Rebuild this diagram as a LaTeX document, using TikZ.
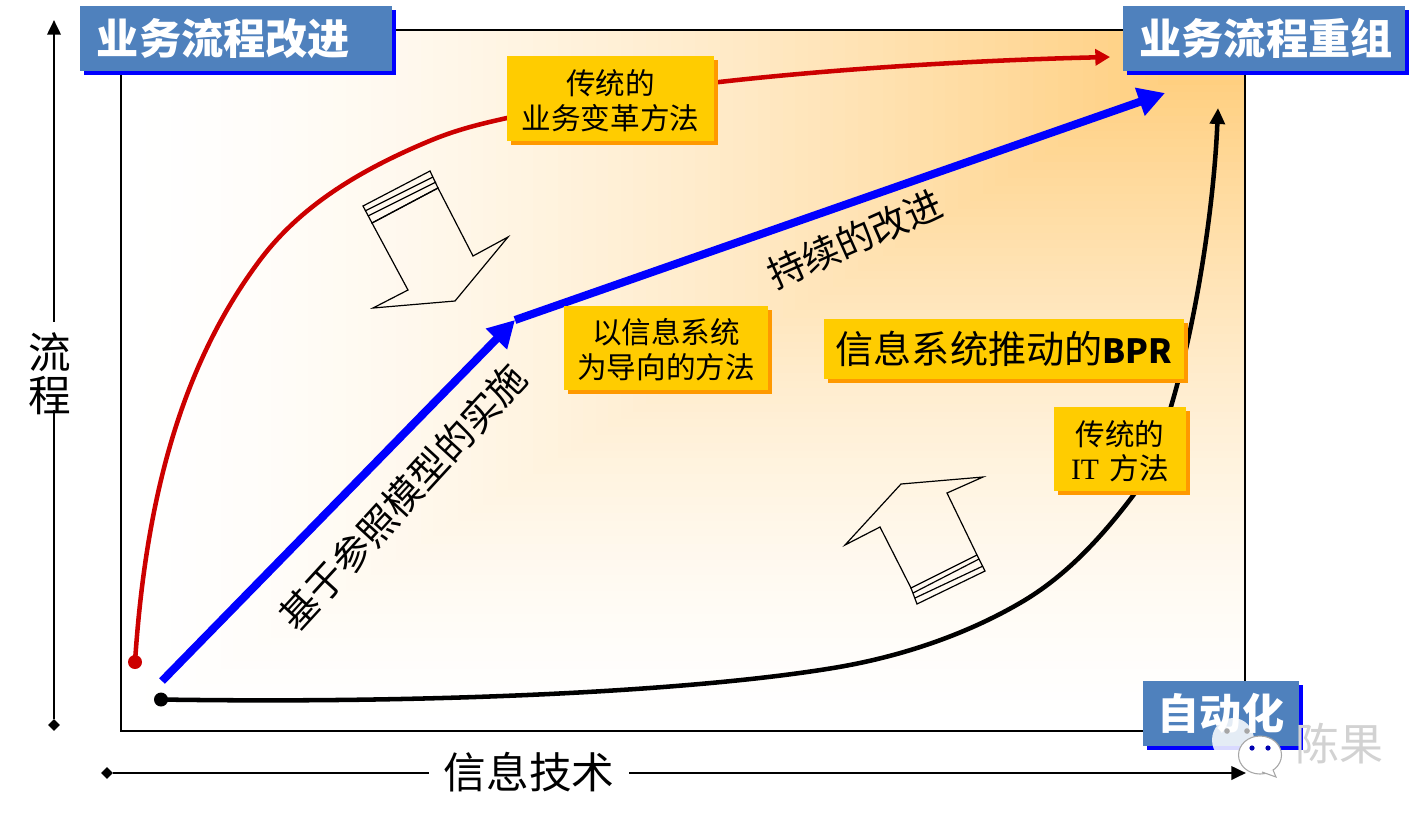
\documentclass[tikz,border=0pt]{standalone}
\usepackage{fontspec}
\setmainfont{Noto Sans CJK SC}
\newfontfamily\latinserif{Liberation Serif}
\usetikzlibrary{arrows.meta,shadows,shapes.geometric}
\definecolor{orng}{HTML}{FFC970}
\definecolor{steel}{HTML}{4F81BD}
\definecolor{gold}{HTML}{FFCC00}
\definecolor{goldsh}{HTML}{FF9900}
\definecolor{redline}{HTML}{CC0000}
\newcommand{\fs}[1]{\fontsize{#1}{#1}\selectfont}
\newcommand{\lowered}[1]{\raisebox{-5pt}{#1}}
\newcommand{\firstline}{\rule{0pt}{22pt}}
\tikzset{
  x=0.75pt,y=-0.75pt,
  boxsize/.style 2 args={minimum width=#1*0.75pt,minimum height=#2*0.75pt,inner sep=0pt,outer sep=0pt},
  bluebox/.style={fill=steel,text=white,font=\bfseries\fs{31.6},general shadow={shadow xshift=3pt,shadow yshift=-3pt,fill=blue,opacity=1}},
  goldbox/.style={fill=gold,text=black,align=center,general shadow={shadow xshift=3pt,shadow yshift=-3pt,fill=goldsh,opacity=1}},
  axislabel/.style={font=\fs{32},inner sep=0pt,outer sep=0pt,align=center},
  axisline/.style={line width=2pt,black},
  endtip/.style={-{Triangle[length=11pt,width=10pt]}},
  bluearrow/.style={line width=6pt,blue,-{Triangle[length=20pt,width=21pt]}},
  redcurve/.style={line width=3.4pt,redline,-{Triangle[length=11pt,width=12pt]}},
  blackcurve/.style={line width=3.4pt,black,-{Triangle[length=12pt,width=11pt]}},
  hollow/.style={line width=0.9pt,black,line join=miter},
  dotmark/.style={circle,inner sep=0pt,minimum size=10.5pt},
  endmark/.style={diamond,fill=black,inner sep=0pt,minimum size=9pt},
  slanted/.style={font=\fs{#1},inner sep=0pt},
}
\begin{document}
\begin{tikzpicture}
\useasboundingbox (0,0) rectangle (1427,819);
\fill[white] (0,0) rectangle (1427,819);
% path gradient from the top-right corner
\foreach \i in {90,89,...,1}{
  \pgfmathsetmacro{\pc}{100*(1-\i/90)^1.5}
  \fill[orng!\pc!white] (1245,30) rectangle ({1245-1124/90*\i},{30+701/90*\i});
}
\draw[line width=1.5pt,black] (121,30) rectangle (1245,731);

% axes
\coordinate (ytop) at (54,20);
\node[endmark] (ybot) at (54,725) {};
\node[axislabel,minimum height=105*0.75pt] (ylabel) at (50,374) {流\\[0.5pt]程};
\draw[axisline,endtip] (ytop |- ylabel.north) -- (ytop);
\draw[axisline,shorten <=-12.5pt] (ytop |- ylabel.south) -- (ybot);
\node[endmark] (xleft) at (107,773) {};
\coordinate (xright) at (1246,773);
\node[axislabel,minimum width=200*0.75pt] (xlabel) at (529,772) {信息技术};
\draw[axisline] (xleft) -- (xlabel.west |- xleft);
\draw[axisline,endtip] (xlabel.east |- xright) -- (xright);

% curves
\node[dotmark,fill=redline] (reddot) at (135,662) {};
\node[dotmark,fill=black] (blackdot) at (161,699.5) {};
\coordinate (redp) at (260,260);
\coordinate (redq) at (427,142);
\coordinate (redmid) at (507,118);
\coordinate (redend) at (1110,57);
\coordinate (blacka) at (833,668);
\coordinate (blackb) at (1020,603);
\coordinate (blackc) at (1132,497);
\coordinate (blackend) at (1218,108);
\draw[redcurve] (reddot.center) .. controls (145,512) and (176,372) .. (redp) .. controls (302,204) and (363,169) .. (redq) .. controls (455,130) and (480,124) .. (redmid) .. controls (640,82) and (900,62) .. (redend);
\draw[blackcurve] (blackdot.center) .. controls (450,704) and (700,690) .. (blacka) .. controls (900,657) and (965,635) .. (blackb) .. controls (1065,577) and (1100,539) .. (blackc) .. controls (1175,440) and (1212,250) .. (blackend);

% blue arrows
\coordinate (bluea) at (162,681);
\coordinate (blueb) at (515,320);
\coordinate (bluec) at (1165,93);
\draw[bluearrow] (bluea) -- (blueb);
\draw[bluearrow] (blueb) -- (bluec);

% hollow arrows
\draw[hollow] (372,223) -- (408,290) -- (373,308) -- (455,301) -- (508,237) -- (473,256) -- (438,188) -- cycle;
\draw[hollow] (363,206) -- (430,171) -- (438,188) -- (372,223) -- cycle;
\draw[hollow] (365,211) -- (433,177);
\draw[hollow] (368,216) -- (436,182);
\draw[hollow] (911,588) -- (880,527) -- (845,545) -- (901,484) -- (983,477) -- (947,493) -- (977,555) -- cycle;
\draw[hollow] (911,588) -- (917,604) -- (985,571) -- (977,555);
\draw[hollow] (913,593) -- (979,559);
\draw[hollow] (915,598) -- (983,566);

% boxes
\node[bluebox,boxsize={312}{65}] (b1) at (236,38.5) {\lowered{业务流程改进}\hspace{19pt}\mbox{}};
\node[bluebox,boxsize={282}{65}] (b2) at (1264,38.5) {\mbox{}\hspace{3pt}\lowered{业务流程重组}};
\node[bluebox,boxsize={156}{65}] (b3) at (1221,713.5) {\lowered{自动化}};
\node[goldbox,boxsize={207}{85},font=\fs{22.2}] (g1) at (610.5,98.5) {\firstline 传统的\\[4pt]业务变革方法};
\node[goldbox,boxsize={204}{84},font=\fs{22.2}] (g2) at (666,348) {\firstline 以信息系统\\[4pt]为导向的方法};
\node[goldbox,boxsize={360}{60},font=\fs{28.6}] (g3) at (1004,349) {信息系统推动的{\bfseries\fs{25}BPR}};
\node[goldbox,boxsize={132}{84},font=\fs{22.2}] (g4) at (1120,449) {\firstline 传统的\\[4pt]{\latinserif IT}\hspace{8pt}方法};

% slanted labels
\node[slanted=28,rotate=24] (t1) at (855,239) {持续的改进};
\node[slanted=28.6,rotate=47.5] (t2) at (403,497) {基于参照模型的实施};

% watermark
\node[ellipse,fill=white,fill opacity=0.85,minimum width=42*0.75pt,minimum height=44*0.75pt,inner sep=0pt] (w1) at (1233,740) {};
\node[ellipse,fill=white,draw=gray!70,line width=0.8pt,minimum width=43*0.75pt,minimum height=38*0.75pt,inner sep=0pt] (w2) at (1260,755) {};
\fill[gray!70] (1227,731) circle (2.8);
\fill[gray!70] (1247,731) circle (2.8);
\fill[blue!70!black] (1252,748) circle (2.6);
\fill[blue!70!black] (1268,748) circle (2.6);
\draw[gray!70,fill=white,line width=0.8pt] (1262,772) -- (1276,777) -- (1273,770);
\fill[white] (1222,760) -- (1218,766) -- (1235,760) -- cycle;
\node[text=gray!35,font=\fs{33},inner sep=0pt] (wm) at (1339,744) {陈果};
\end{tikzpicture}
\end{document}
